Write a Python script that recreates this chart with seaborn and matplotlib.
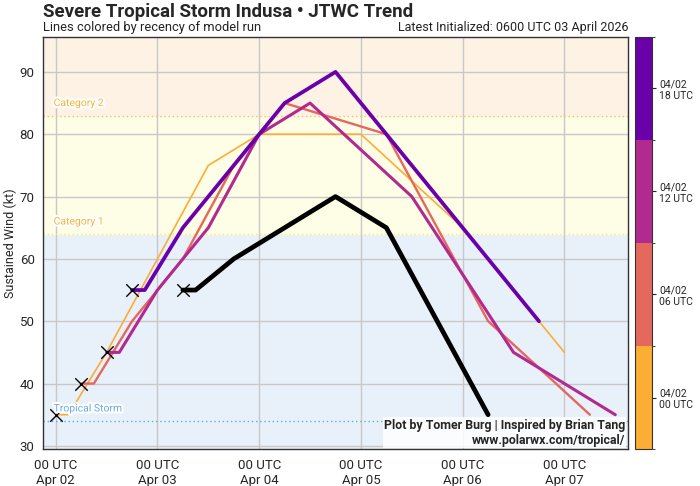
import numpy as np
import pandas as pd
import matplotlib
matplotlib.use("Agg")
import matplotlib.pyplot as plt
import matplotlib.patheffects as pe
from matplotlib.colors import ListedColormap, BoundaryNorm
import seaborn as sns

# Data: forecast hours after 00 UTC 02 April 2026, and JTWC intensity (kt)
base_time = pd.Timestamp("2026-04-02 00:00")

run_labels = ["04/02\n00 UTC", "04/02\n06 UTC", "04/02\n12 UTC", "04/02\n18 UTC"]
run_colors = ["#fcad33", "#e4685d", "#b12a90", "#6a00a8"]

hours_00z = [0, 3, 12, 24, 36, 48, 60, 72, 96, 120]
wind_00z = [35, 35, 45, 60, 75, 80, 80, 80, 65, 45]

hours_06z = [6, 9, 18, 30, 42, 54, 66, 78, 102, 126]
wind_06z = [40, 40, 50, 60, 75, 85, 82.5, 80, 50, 35]

hours_12z = [12, 15, 24, 36, 48, 60, 72, 84, 108, 132]
wind_12z = [45, 45, 55, 65, 80, 85, 77.5, 70, 45, 35]

hours_18z = [18, 21, 30, 42, 54, 66, 78, 90, 114]
wind_18z = [55, 55, 65, 75, 85, 90, 80, 70, 50]

hours_latest = [30, 33, 42, 54, 66, 78, 102]
wind_latest = [55, 55, 60, 65, 70, 65, 35]

run_hours = [hours_00z, hours_06z, hours_12z, hours_18z]
run_winds = [wind_00z, wind_06z, wind_12z, wind_18z]
run_widths = [1.2, 1.7, 2.2, 2.7]

tick_days = ["Apr 02", "Apr 03", "Apr 04", "Apr 05", "Apr 06", "Apr 07"]

sns.set_style("white")
plt.rcParams["font.family"] = ["Roboto", "DejaVu Sans"]

fig = plt.figure(figsize=(7, 4.86), dpi=100)
ax = fig.add_axes([43 / 700, 1 - 449 / 486, 585 / 700, 412 / 486])
cax = fig.add_axes([635 / 700, 1 - 449 / 486, 17 / 700, 412 / 486])

# Category shading
ax.axhspan(0, 64, color="#e8f0f9", zorder=0)
ax.axhspan(64, 83, color="#fefde6", zorder=0)
ax.axhspan(83, 200, color="#fdf2e4", zorder=0)
ax.axhline(34, color="#6aaae6", ls=(0, (1, 2)), lw=1.0, zorder=1)
ax.axhline(64, color="#f3ea7a", ls=(0, (1, 2)), lw=1.0, zorder=1)
ax.axhline(83, color="#fbc55e", ls=(0, (1, 2)), lw=1.0, zorder=1)

ax.grid(True, color="#c8c8c8", lw=1, zorder=1)
ax.set_axisbelow(True)

# Older runs first, latest on top
for i in range(len(run_labels)):
    df = pd.DataFrame({
        "time": base_time + pd.to_timedelta(run_hours[i], unit="h"),
        "wind": run_winds[i],
    })
    sns.lineplot(data=df, x="time", y="wind", color=run_colors[i], lw=run_widths[i],
                 ax=ax, zorder=3 + i, estimator=None, sort=False)
    ax.scatter(df["time"].iloc[0], df["wind"].iloc[0], marker="x", s=80, color="black",
               lw=1.0, zorder=10)

df_latest = pd.DataFrame({
    "time": base_time + pd.to_timedelta(hours_latest, unit="h"),
    "wind": wind_latest,
})
sns.lineplot(data=df_latest, x="time", y="wind", color="black", lw=3.4, ax=ax, zorder=8,
             estimator=None, sort=False)
ax.scatter(df_latest["time"].iloc[0], df_latest["wind"].iloc[0], marker="x", s=80,
           color="black", lw=1.0, zorder=10)

ax.set_xlim(base_time - pd.Timedelta(hours=3), base_time + pd.Timedelta(hours=135))
ax.set_ylim(29.5, 95.6)

ticks = [base_time + pd.Timedelta(days=d) for d in range(len(tick_days))]
ax.set_xticks(ticks)
ax.set_xticklabels([f"00 UTC\n{d}" for d in tick_days], fontsize=9.5)
ax.set_yticks(range(30, 91, 10))
ax.tick_params(axis="y", labelsize=9.5, pad=2)
ax.tick_params(length=4, color="#444444")
ax.set_xlabel("")
ax.set_ylabel("Sustained Wind (kt)", fontsize=9)
ax.yaxis.set_label_coords(-0.044, 0.5)
for s in ax.spines.values():
    s.set_color("#333333")
    s.set_linewidth(1.0)

# Category labels
outline = [pe.withStroke(linewidth=3, foreground="white")]
lab_x = base_time - pd.Timedelta(hours=0.5)
ax.text(lab_x, 35.2, "Tropical Storm", color="#6aaae6", fontsize=7.5, va="bottom",
        path_effects=outline, zorder=12)
ax.text(lab_x, 65.2, "Category 1", color="#f7b43a", fontsize=7.5, va="bottom",
        path_effects=outline, zorder=12)
ax.text(lab_x, 84.2, "Category 2", color="#f7b43a", fontsize=7.5, va="bottom",
        path_effects=outline, zorder=12)

ax.text(0.995, 0.006, "Plot by Tomer Burg | Inspired by Brian Tang\nwww.polarwx.com/tropical/",
        transform=ax.transAxes, ha="right", va="bottom", fontsize=8.9, fontweight="bold",
        linespacing=1.2, zorder=12,
        bbox=dict(facecolor="white", edgecolor="none", alpha=0.85, pad=0.8))

# Colorbar of model runs
cmap = ListedColormap(run_colors)
norm = BoundaryNorm(np.arange(len(run_labels) + 1), cmap.N)
sm = plt.cm.ScalarMappable(cmap=cmap, norm=norm)
cb = fig.colorbar(sm, cax=cax, ticks=np.arange(len(run_labels)) + 0.5)
cb.ax.set_yticklabels(run_labels, fontsize=7.5)
cb.ax.tick_params(length=3, pad=2)
cb.outline.set_edgecolor("#333333")

fig.text(43 / 700, 1 - 12 / 486, "Severe Tropical Storm Indusa \u2022 JTWC Trend",
         fontsize=13.5, fontweight="bold", va="center", ha="left")
fig.text(43 / 700, 1 - 28 / 486, "Lines colored by recency of model run",
         fontsize=9.3, va="center", ha="left", color="#222222")
fig.text(628 / 700, 1 - 28 / 486, "Latest Initialized: 0600 UTC 03 April 2026",
         fontsize=9, va="center", ha="right", color="#222222")

fig.savefig("out.png", dpi=100)
